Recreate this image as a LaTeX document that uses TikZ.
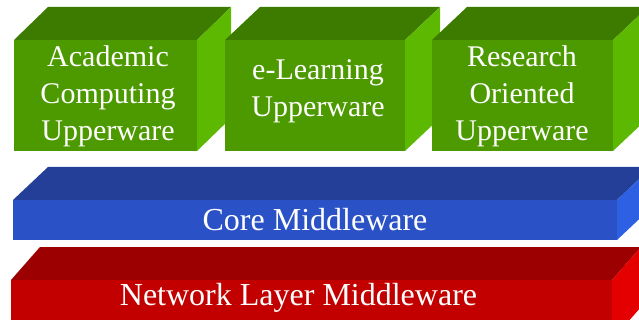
\documentclass[tikz,border=0pt]{standalone}
\usepackage{tikz}
\usepackage{xcolor}
\usepackage{fontspec}
\setmainfont{LiberationSerif}[Extension=.ttf, UprightFont=*-Regular]

\definecolor{greenfront}{HTML}{4C9A00}
\definecolor{greentop}{HTML}{3D7A00}
\definecolor{greenside}{HTML}{5CB800}
\definecolor{bluefront}{HTML}{2A52C6}
\definecolor{bluetop}{HTML}{233F98}
\definecolor{blueside}{HTML}{2E60E4}
\definecolor{redfront}{HTML}{C20000}
\definecolor{redtop}{HTML}{9C0000}
\definecolor{redside}{HTML}{E40000}

% #1,#2 front top left, #3 width, #4 height, #5,#6 depth, #7 colour
\newcommand{\layerblock}[7]{%
    \fill[#7top] (#1,#2) -- ++(#5,-#6) -- ++(#3,0) -- ++(-#5,#6) -- cycle;
    \fill[#7side] (#1+#3,#2) -- ++(#5,-#6) -- ++(0,#4) -- ++(-#5,#6) -- cycle;
    \fill[#7front] (#1,#2) rectangle ++(#3,#4);
}

\begin{document}
\begin{tikzpicture}[x=1pt, y=-1pt,
    blocktext/.style={text=white, inner sep=0pt, align=center,
        font=\fontsize{30}{36.8}\selectfont},
    layertext/.style={blocktext, anchor=base,
        font=\fontsize{32}{38}\selectfont}]
    \useasboundingbox (0,0) rectangle (639,320);
    \clip (0,0) rectangle (639,320);

    % upperware boxes
    \layerblock{14}{40}{183}{111}{34}{33}{green}
    \layerblock{225}{40}{180}{111}{35}{33}{green}
    \layerblock{432}{40}{181}{111}{35}{33}{green}

    \node[blocktext] (acad) at (108,96) {Academic\\Computing\\Upperware};
    \node[blocktext] (elearn) at (318,91.5) {e-Learning\\Upperware};
    \node[blocktext] (research) at (522,96) {Research\\Oriented\\Upperware};

    % middleware layers
    \layerblock{13}{200}{604}{40}{35}{33}{blue}
    \layerblock{11}{280}{601}{60}{29}{33}{red}

    \node[layertext] (core) at (315,230) {Core Middleware};
    \node[layertext] (network) at (298.5,305) {Network Layer Middleware};
\end{tikzpicture}
\end{document}
